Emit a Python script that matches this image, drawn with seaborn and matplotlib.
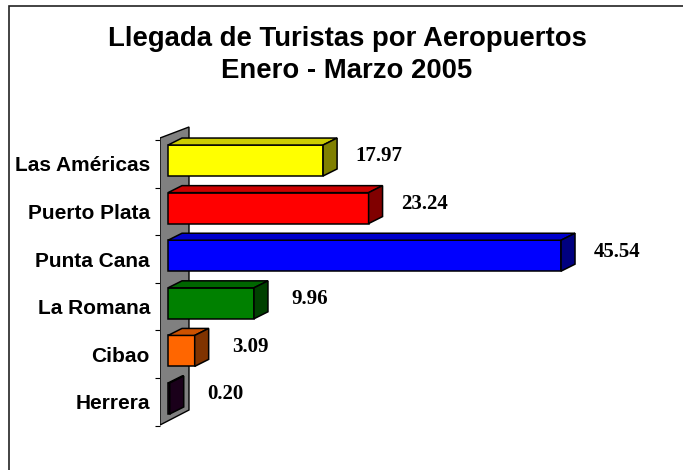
import numpy as np
import matplotlib
matplotlib.use("Agg")
import matplotlib.pyplot as plt
from matplotlib.patches import Polygon, Rectangle
import seaborn as sns

# Datos: llegada de turistas por aeropuerto (%)
aeropuertos = ['Las Américas', 'Puerto Plata', 'Punta Cana', 'La Romana', 'Cibao', 'Herrera']
valores = [17.97, 23.24, 45.54, 9.96, 3.09, 0.20]
colores = ['#FFFF00', '#FF0000', '#0000FF', '#008000', '#FF6600', '#330033']
colores_arriba = ['#CCCC00', '#CC0000', '#0000CC', '#006600', '#CC5200', '#290029']
colores_lado = ['#808000', '#800000', '#000080', '#004000', '#803300', '#1A001A']

sns.set_style('white')
plt.rcParams['font.family'] = ['Liberation Sans', 'DejaVu Sans']
plt.rcParams['text.color'] = 'black'
plt.rcParams['ytick.color'] = 'black'
plt.rcParams['ytick.labelcolor'] = 'black'

fig = plt.figure(figsize=(6.83, 4.70), dpi=100)
ax = fig.add_axes([160 / 683, 1 - 440 / 470, 520 / 683, 320 / 470])

sns.barplot(x=valores, y=aeropuertos, hue=aeropuertos, palette=colores, legend=False,
            orient='h', width=0.65, saturation=1, edgecolor='black', linewidth=1.1,
            ax=ax, zorder=3)

barras = sorted(ax.patches, key=lambda p: p.get_y())

# profundidad del efecto 3D (unidades de datos)
dx, dy = 1.62, -0.147

# pared gris a la izquierda
pared = Polygon([(-0.93, -0.473), (2.43, -0.704), (2.43, 5.242), (-0.93, 5.557)],
                closed=True, facecolor='#808080', edgecolor='black', linewidth=1.0, zorder=1)
ax.add_patch(pared)

for i, p in enumerate(barras):
    w = p.get_width()
    y0 = p.get_y()
    y1 = y0 + p.get_height()
    arriba = Polygon([(0, y0), (w, y0), (w + dx, y0 + dy), (dx, y0 + dy)], closed=True,
                     facecolor=colores_arriba[i], edgecolor='black', linewidth=1.1, zorder=3)
    lado = Polygon([(w, y0), (w + dx, y0 + dy), (w + dx, y1 + dy), (w, y1)], closed=True,
                   facecolor=colores_lado[i], edgecolor='black', linewidth=1.1, zorder=3)
    ax.add_patch(arriba)
    ax.add_patch(lado)
    centro = y0 + p.get_height() / 2
    ax.text(w + 6.5, centro + 0.02, f'{valores[i]:.2f}', ha='center', va='baseline',
            fontsize=15, fontweight='bold', family=['Liberation Serif', 'DejaVu Serif'],
            color='black')

ax.set_xlim(-0.93, -0.93 + 520 / 8.63)
ax.set_ylim(5.872, -0.851)

ax.set_yticks([i + 0.07 for i in range(len(aeropuertos))], labels=aeropuertos)
ax.set_yticks([i - 0.43 for i in range(len(aeropuertos) + 1)], minor=True)
ax.tick_params(axis='y', which='major', length=0, pad=7.2, labelsize=15, labelcolor='black')
ax.tick_params(axis='y', which='minor', length=3.8, width=0.8, color='black', left=True)
for lab in ax.get_yticklabels():
    lab.set_fontweight('bold')
ax.set_xticks([])
ax.set_xlabel('')
ax.set_ylabel('')
for s in ax.spines.values():
    s.set_visible(False)

fig.text(347 / 683, 1 - 46 / 470, 'Llegada de Turistas por Aeropuertos', ha='center',
         va='baseline', fontsize=19.8, fontweight='bold', color='black')
fig.text(347 / 683, 1 - 78 / 470, 'Enero - Marzo 2005', ha='center',
         va='baseline', fontsize=19.8, fontweight='bold', color='black')

fig.add_artist(Rectangle((9 / 683, -0.1), 1.2, 1 - 6 / 470 + 0.1, transform=fig.transFigure,
                         fill=False, edgecolor='#222222', linewidth=1.2))

fig.savefig('out.png', dpi=100)
